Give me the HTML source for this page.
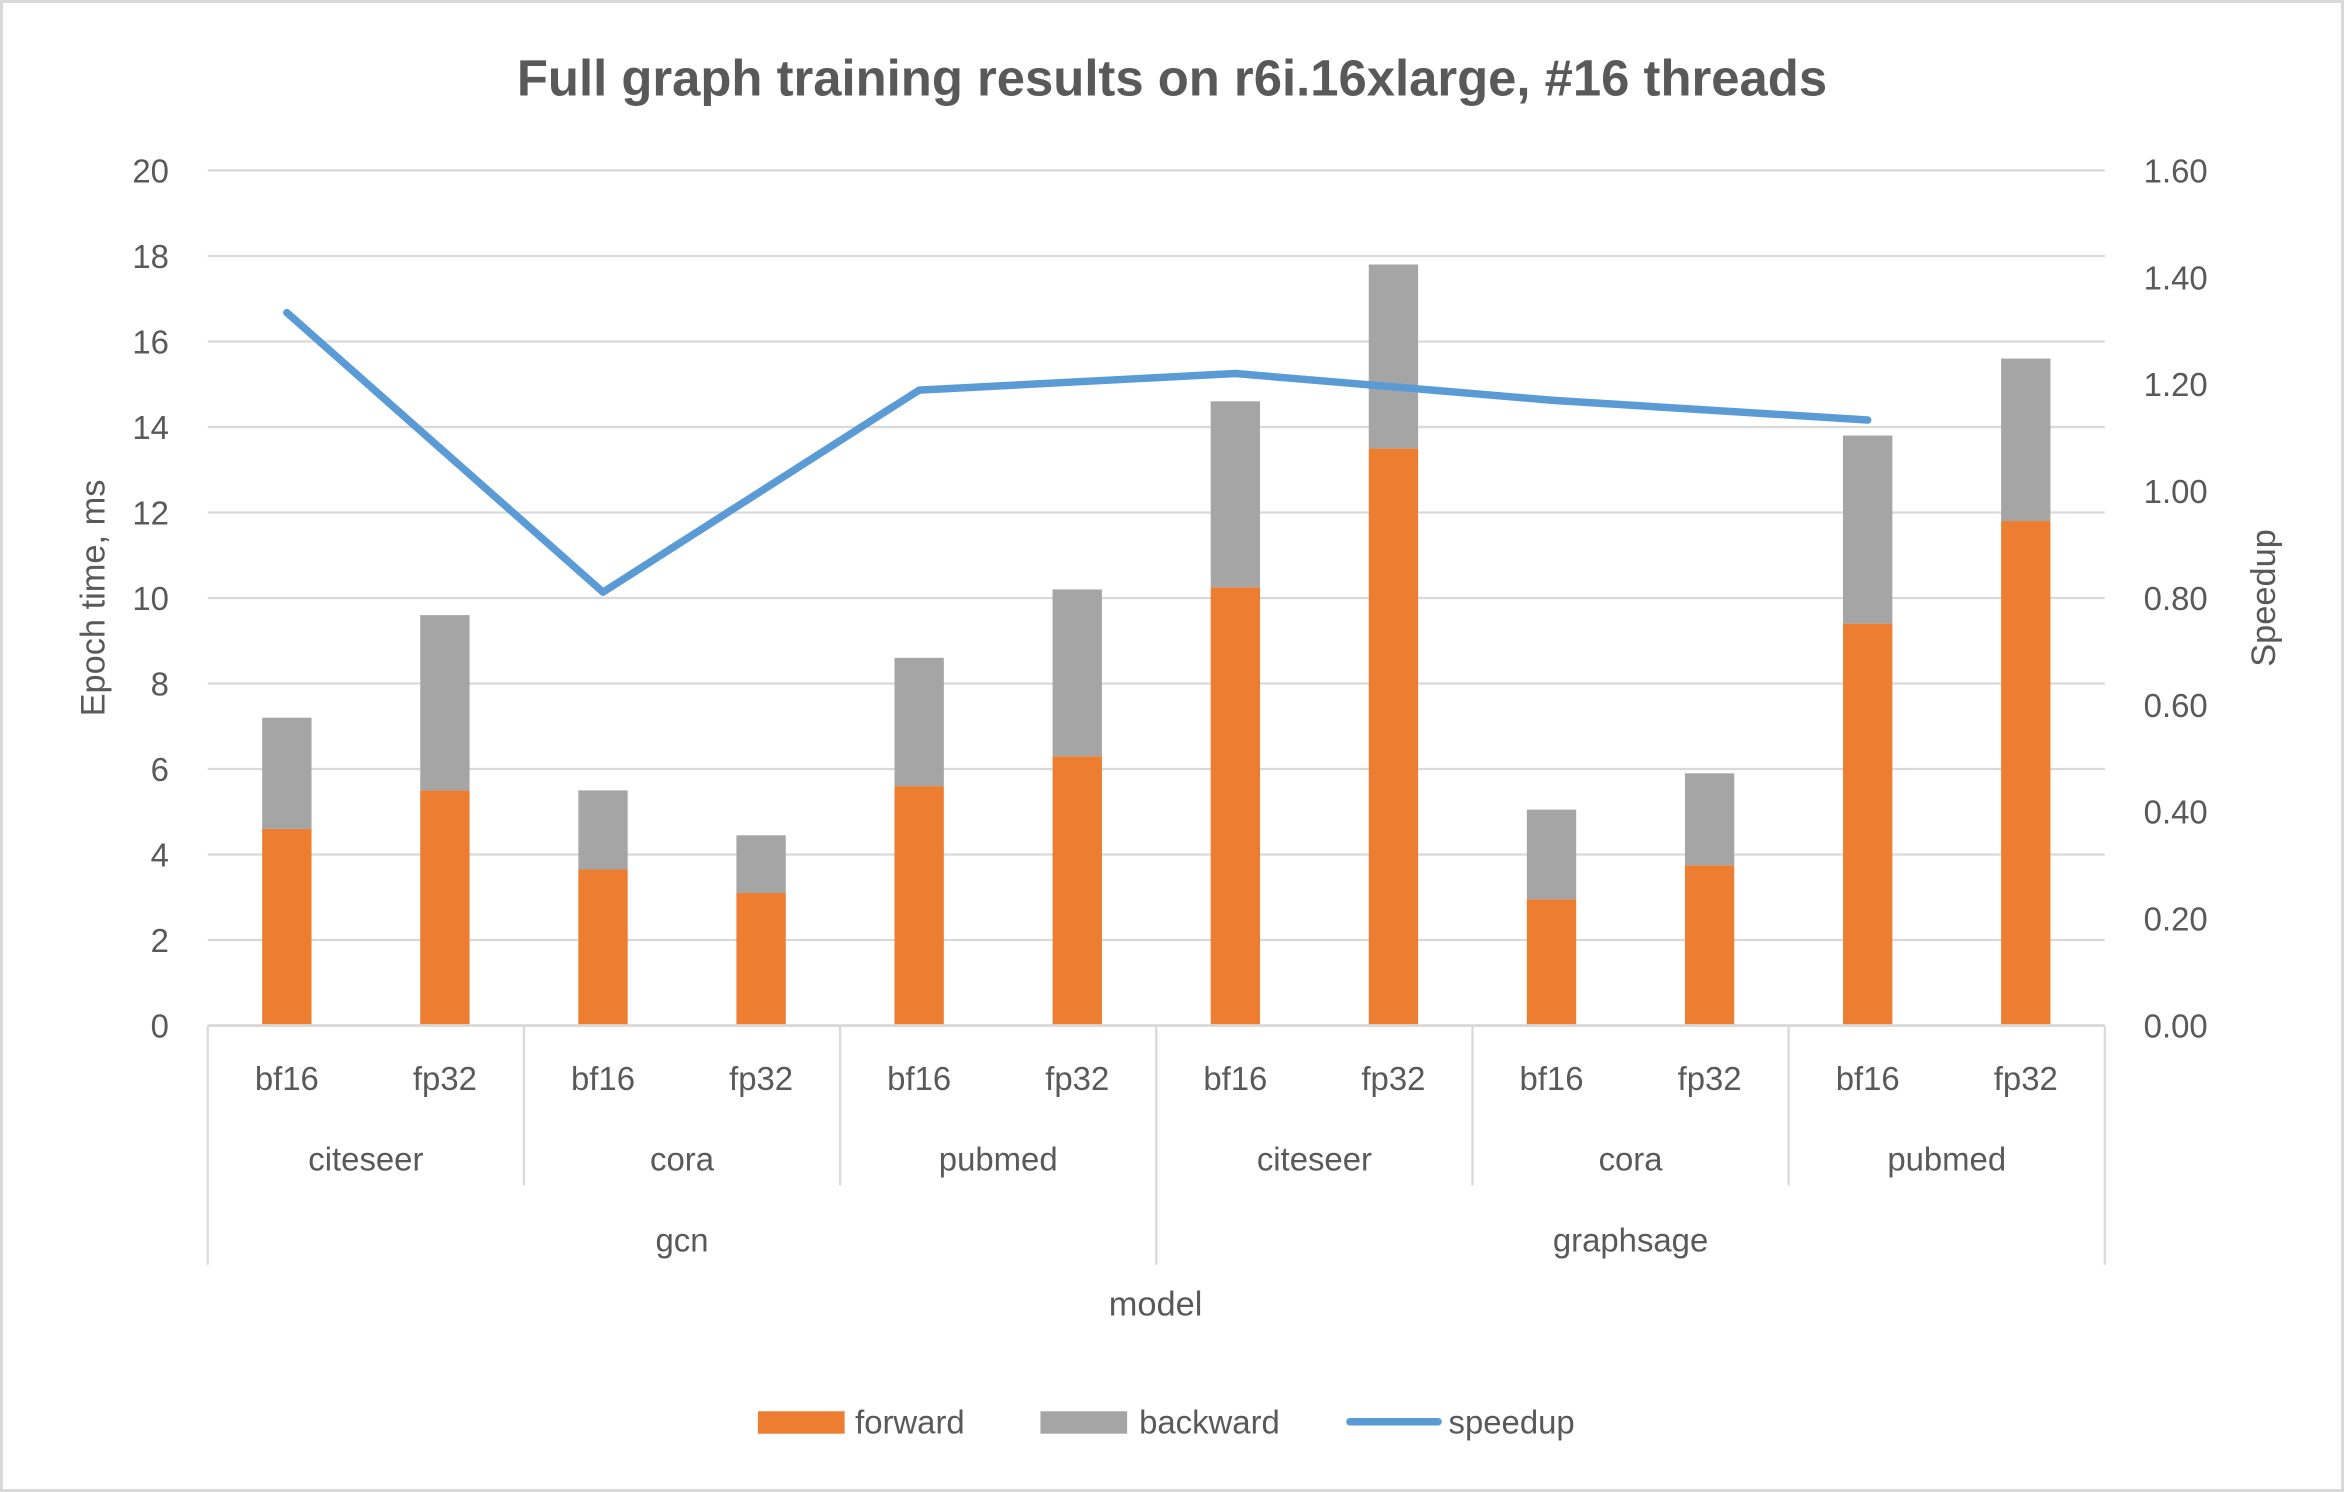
<!DOCTYPE html>
<html><head><meta charset="utf-8"><style>
html,body{margin:0;padding:0;background:#fff;}
svg{display:block;font-family:"Liberation Sans",sans-serif;}
</style></head><body>
<svg id="chart" width="2344" height="1492" viewBox="0 0 1568 998" preserveAspectRatio="none" xmlns="http://www.w3.org/2000/svg">
<rect x="1" y="1" width="1566" height="996" fill="#fff" stroke="#d9d9d9" stroke-width="2"/>
<text x="784" y="64" text-anchor="middle" font-size="34" font-weight="bold" fill="#595959">Full graph training results on r6i.16xlarge, #16 threads</text>
<g id="grid"></g><g id="bars"></g><g id="line"></g><g id="axes"></g>
<text transform="translate(70,400) rotate(-90)" text-anchor="middle" font-size="23" fill="#595959">Epoch time, ms</text>
<text transform="translate(1522,400) rotate(-90)" text-anchor="middle" font-size="23" fill="#595959">Speedup</text>
<text x="773" y="880" text-anchor="middle" font-size="23" fill="#595959">model</text>
<g>
<g><rect x="507" y="944" width="58" height="15" fill="#ED7D31"/><text x="572" y="959" font-size="22" fill="#595959">forward</text></g>
<g><rect x="696" y="944" width="58" height="15" fill="#A5A5A5"/><text x="762" y="959" font-size="22" fill="#595959">backward</text></g>
<g><line x1="903" y1="951" x2="962" y2="951" stroke="#5B9BD5" stroke-width="5" stroke-linecap="round"/><text x="969" y="959" font-size="22" fill="#595959">speedup</text></g>
</g>
</svg>
<script>
const categories = ["bf16","fp32","bf16","fp32","bf16","fp32","bf16","fp32","bf16","fp32","bf16","fp32"];
const datasets = ["citeseer","cora","pubmed","citeseer","cora","pubmed"];
const models = ["gcn","graphsage"];
const forward = [4.6,5.5,3.65,3.1,5.6,6.3,10.25,13.5,2.95,3.75,9.4,11.8];
const backward = [2.6,4.1,1.85,1.35,3.0,3.9,4.35,4.3,2.1,2.15,4.4,3.8];
const speedup = [1.334,0.811,1.189,1.22,1.17,1.133];
const leftTicks = ["0","2","4","6","8","10","12","14","16","18","20"];
const rightTicks = ["0.00","0.20","0.40","0.60","0.80","1.00","1.20","1.40","1.60"];

const NS="http://www.w3.org/2000/svg";
const X0=139,X1=1408,Y0=686,Y1=114,YMAX=20,Y2MAX=1.6;
const catW=(X1-X0)/categories.length;
const xc=i=>X0+catW*(i+0.5);
const y=v=>Y0-(v/YMAX)*(Y0-Y1);
const y2=v=>Y0-(v/Y2MAX)*(Y0-Y1);
function mk(tag,attrs,parent,text){const e=document.createElementNS(NS,tag);for(const k in attrs)e.setAttribute(k,attrs[k]);if(text!==undefined)e.textContent=text;parent.appendChild(e);return e;}
const grid=document.getElementById('grid'),bars=document.getElementById('bars'),line=document.getElementById('line'),axes=document.getElementById('axes');
leftTicks.forEach((t,i)=>{
  const v=+t;
  const g=mk('line',{x1:X0,x2:X1,y1:y(v),y2:y(v),stroke:'#d9d9d9','stroke-width':1.5},grid);
  
  
  const l=mk('text',{x:113,y:y(v)+8,'text-anchor':'end','font-size':22,fill:'#595959'},axes,t);
  
  
});
rightTicks.forEach(t=>{
  const l=mk('text',{x:1434,y:y2(+t)+8,'font-size':22,fill:'#595959'},axes,t);
  
  
});
const bw=33;
categories.forEach((c,i)=>{
  const f=mk('rect',{x:xc(i)-bw/2,y:y(forward[i]),width:bw,height:Y0-y(forward[i]),fill:'#ED7D31'},bars);
  
  
  const tot=forward[i]+backward[i];
  const b=mk('rect',{x:xc(i)-bw/2,y:y(tot),width:bw,height:y(forward[i])-y(tot),fill:'#A5A5A5'},bars);
  
  
  const l=mk('text',{x:xc(i),y:729,'text-anchor':'middle','font-size':22,fill:'#595959'},axes,c);
  
  
});
const pts=speedup.map((v,j)=>xc(j*2)+','+y2(v)).join(' ');
const pl=mk('polyline',{points:pts,fill:'none',stroke:'#5B9BD5','stroke-width':5,'stroke-linejoin':'round','stroke-linecap':'round'},line);


// axis line
const ax=mk('line',{x1:X0,x2:X1,y1:Y0,y2:Y0,stroke:'#d9d9d9','stroke-width':2},axes);


datasets.forEach((d,j)=>{
  const l=mk('text',{x:X0+catW*(2*j+1),y:783,'text-anchor':'middle','font-size':22,fill:'#595959'},axes,d);
  
  
});
for(let j=0;j<=datasets.length;j++){
  const xx=X0+catW*2*j;
  const full=(j%3===0);
  const s=mk('line',{x1:xx,x2:xx,y1:Y0,y2:full?846:793,stroke:'#d9d9d9','stroke-width':1.5},axes);
  
  
}
models.forEach((m,k)=>{
  const l=mk('text',{x:X0+catW*(6*k+3),y:837,'text-anchor':'middle','font-size':22,fill:'#595959'},axes,m);
  
  
});
</script>
</body></html>
